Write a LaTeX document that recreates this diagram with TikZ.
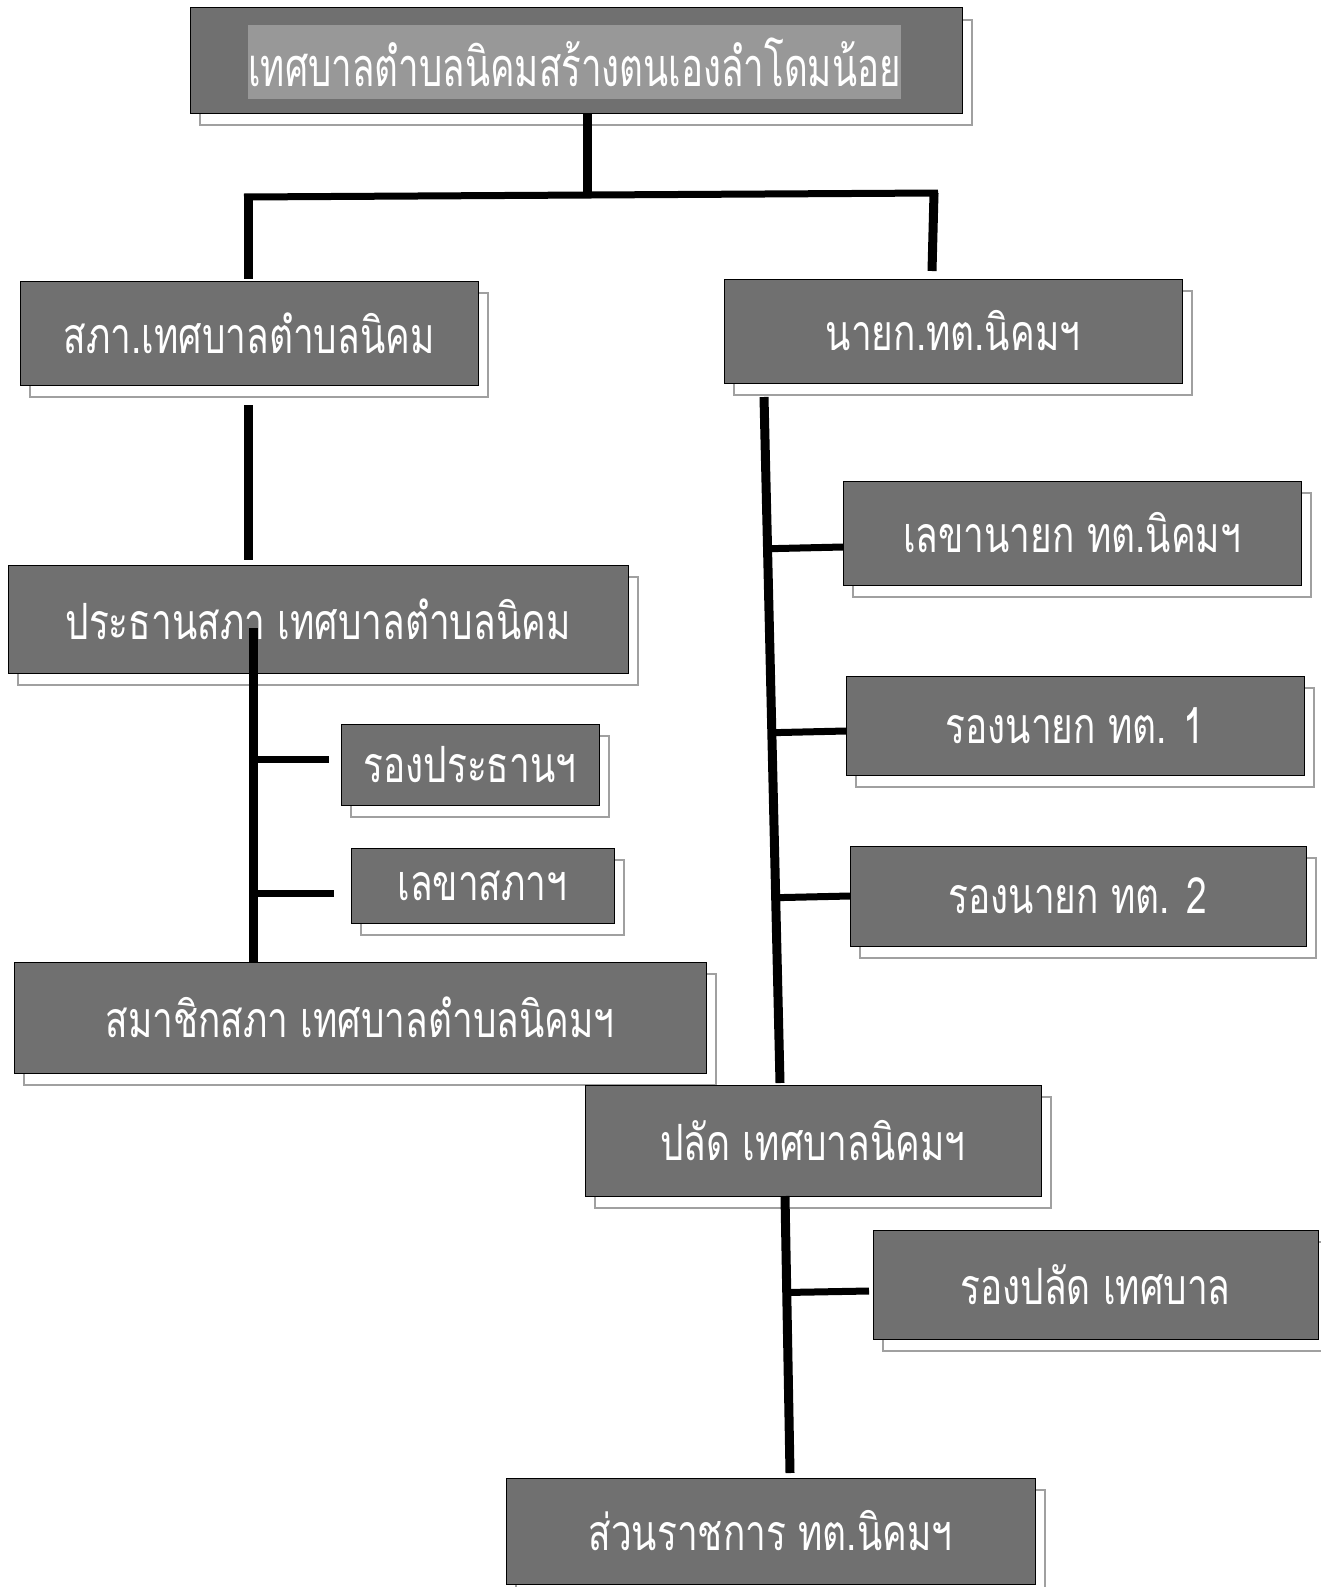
\documentclass[tikz,border=0pt]{standalone}
\usepackage{fontspec}
\newfontfamily\thaifont[Script=Thai,FakeStretch=0.74]{Loma}
\newfontfamily\thaititlefont[Script=Thai,FakeStretch=0.68]{Loma}
\usetikzlibrary{shadows,calc}
\definecolor{boxgray}{HTML}{707070}
\definecolor{innergray}{HTML}{989898}
\definecolor{shadowgray}{HTML}{A0A0A0}
\begin{document}
\begin{tikzpicture}[x=1pt,y=-1pt,
  orgbox/.style={draw=black, line width=1pt, fill=boxgray, text=white,
    font=\thaifont\fontsize{50}{56}\selectfont, inner sep=0pt,
    general shadow={shadow xshift=10pt, shadow yshift=-12pt, draw=shadowgray, fill=none, line width=1.5pt}},
  innerbox/.style={fill=innergray, draw=none, text=white, inner sep=0pt,
    font=\thaititlefont\fontsize{54}{60}\selectfont},
  link/.style={line width=9pt, black},
  branch/.style={line width=7pt, black}]
\useasboundingbox (0,0) rectangle (1320,1587);

% boxes
\node[orgbox, minimum width=772pt, minimum height=105pt] (top) at (576,60.5) {};
\node[innerbox, minimum width=653pt, minimum height=73pt] (title) at (574.5,62) {เทศบาลตำบลนิคมสร้างตนเองลำโดมน้อย};

\node[orgbox, minimum width=458pt, minimum height=104pt] (sapha) at (249,333) {สภา.เทศบาลตำบลนิคม};
\node[orgbox, minimum width=458pt, minimum height=104pt] (nayok) at (953,331) {นายก.ทต.นิคมฯ};
\node[orgbox, minimum width=620pt, minimum height=108pt] (prathan) at (318,619) {ประธานสภา เทศบาลตำบลนิคม};
\node[orgbox, minimum width=258pt, minimum height=81pt] (rongprathan) at (470,764.5) {รองประธานฯ};
\node[orgbox, minimum width=263pt, minimum height=75pt] (lekhasapha) at (482.5,885.5) {เลขาสภาฯ};
\node[orgbox, minimum width=692pt, minimum height=111pt] (samachik) at (360,1017.5) {สมาชิกสภา เทศบาลตำบลนิคมฯ};

\node[orgbox, minimum width=458pt, minimum height=104pt] (lekhanayok) at (1072,533) {เลขานายก ทต.นิคมฯ};
\node[orgbox, minimum width=458pt, minimum height=99pt] (rongnayok1) at (1075,725.5) {รองนายก ทต. 1};
\node[orgbox, minimum width=456pt, minimum height=100pt] (rongnayok2) at (1078,896) {รองนายก ทต. 2};
\node[orgbox, minimum width=456pt, minimum height=111pt] (palat) at (813,1140.5) {ปลัด เทศบาลนิคมฯ};
\node[orgbox, minimum width=445pt, minimum height=109pt] (rongpalat) at (1095.5,1284.5) {รองปลัด เทศบาล};
\node[orgbox, minimum width=529pt, minimum height=106pt] (suanrachakan) at (770.5,1531) {ส่วนราชการ ทต.นิคมฯ};

% trunk from the top box
\coordinate (j) at (587,195);
\coordinate (hl) at (248,197);
\coordinate (hr) at (934,193);
\draw[link] (top.south -| j) -- (j);
\draw[branch] ([xshift=-4pt]hl) -- ([xshift=4pt]hr);
\draw[link] (hl) -- ([yshift=2pt]sapha.north -| hl);
\coordinate (hrend) at (932,271);
\draw[link] (hr) -- (hrend);

% council side
\coordinate (sv1) at (248,405);
\coordinate (sv2) at (248,560);
\draw[link] (sv1) -- (sv2);
\coordinate (pv1) at (253,628);
\coordinate (pv2) at (253,962);
\draw[link] (pv1) -- (pv2);
\coordinate (b1) at (329,759);
\coordinate (b2) at (334,893);
\draw[branch] (b1 -| pv1) -- (b1);
\draw[branch] (b2 -| pv1) -- (b2);

% mayor side
\coordinate (rv1) at (764,397);
\coordinate (rv2) at (780,1083);
\draw[link] (rv1) -- (rv2);
\coordinate (c1) at (843,547);
\coordinate (c2) at (846,731);
\coordinate (c3) at (850,896);
\draw[branch] ($(rv1)!(c1)!(rv2)$) -- (c1);
\draw[branch] ($(rv1)!(c2)!(rv2)$) -- (c2);
\draw[branch] ($(rv1)!(c3)!(rv2)$) -- (c3);

% clerk side
\coordinate (lv1) at (785,1196);
\coordinate (lv2) at (790,1473);
\draw[link] (lv1) -- (lv2);
\coordinate (c4) at (869,1291);
\draw[branch] ($(lv1)!(c4)!(lv2)$) -- (c4);
\end{tikzpicture}
\end{document}
